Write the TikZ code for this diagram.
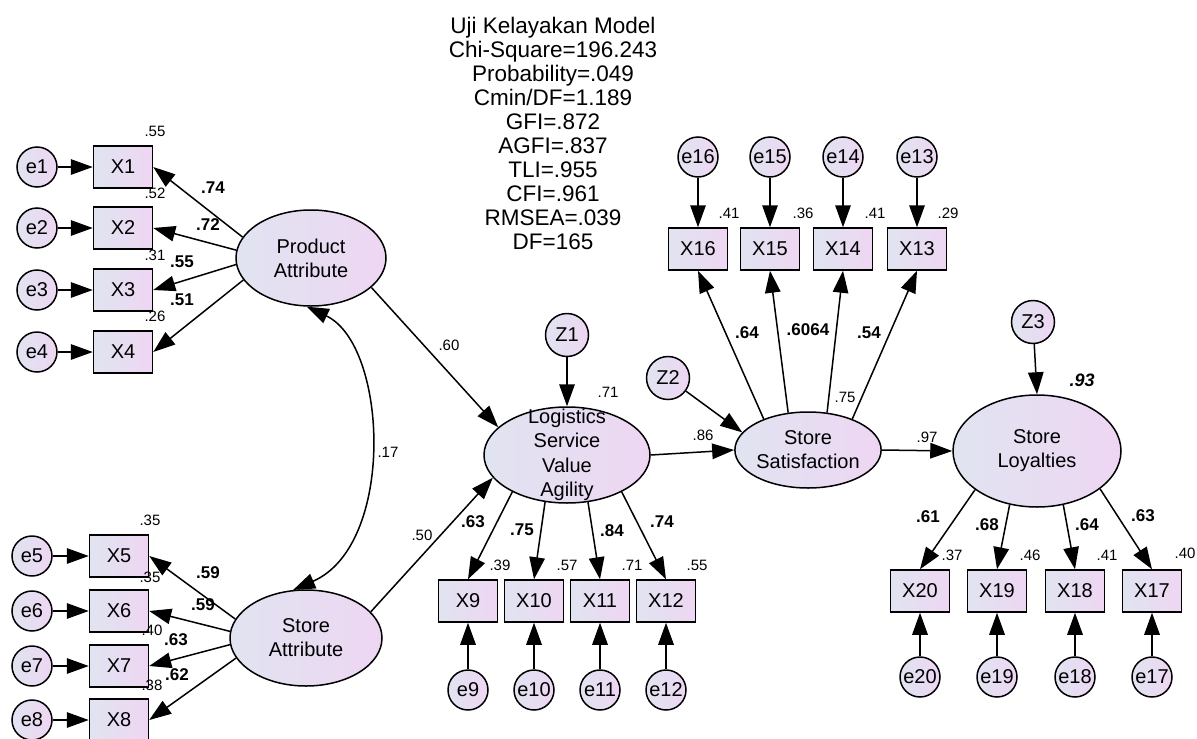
\documentclass[tikz,border=0pt]{standalone}
\usepackage{fontspec}
\setmainfont{Liberation Sans}
\usetikzlibrary{arrows.meta,shapes.geometric}
\definecolor{boxleft}{RGB}{224,228,240}
\definecolor{boxright}{RGB}{238,214,243}

\begin{document}
\begin{tikzpicture}[x=1pt,y=-1pt]
    \tikzstyle{every node}+=[inner sep=0pt]
    \tikzstyle{shade}=[draw=black,line width=1.5pt,left color=boxleft,right color=boxright]
    \tikzstyle{obs}=[shade,rectangle,minimum width=59pt,minimum height=42pt,font=\fontsize{20}{24}\selectfont]
    \tikzstyle{err}=[shade,circle,minimum size=40pt,font=\fontsize{20}{24}\selectfont]
    \tikzstyle{dist}=[err,minimum size=43pt]
    \tikzstyle{lat}=[shade,ellipse,align=center,font=\fontsize{20}{24}\selectfont]
    \tikzstyle{arr}=[line width=1.5pt,-{Triangle[length=22pt,width=15.5pt]}]
    \tikzstyle{arrtwo}=[line width=1.5pt,{Triangle[length=22pt,width=15.5pt]}-{Triangle[length=22pt,width=15.5pt]}]
    \tikzstyle{sq}=[font=\fontsize{15}{18}\selectfont]
    \tikzstyle{ld}=[font=\bfseries\fontsize{17}{20}\selectfont]
    \useasboundingbox (0,0) rectangle (1197,739);
    % fit statistics
    \node[align=center,anchor=north,font=\fontsize{22.5}{24}\selectfont] (fit) at (553,16.5)
        {Uji Kelayakan Model\\Chi-Square=196.243\\Probability=.049\\Cmin/DF=1.189\\GFI=.872\\AGFI=.837\\TLI=.955\\CFI=.961\\RMSEA=.039\\DF=165};
    % latent variables
    \node[lat,minimum width=150pt,minimum height=96pt] (PA) at (311,258) {Product\\Attribute};
    \node[lat,minimum width=152pt,minimum height=96pt] (SA) at (306,638) {Store\\Attribute};
    \node[lat,minimum width=166pt,minimum height=96pt] (LSVA) at (567,455) {};
    \node[align=center,font=\fontsize{20}{24.5}\selectfont] (LSVAtext) at (LSVA) {Logistics\\Service\\Value\\Agility};
    \node[lat,minimum width=146pt,minimum height=76pt] (SS) at (808,450) {Store\\Satisfaction};
    \node[lat,minimum width=168pt,minimum height=112pt] (SL) at (1037,451) {Store\\Loyalties};
    \node[dist] (Z1) at (567,335) {Z1};
    \node[dist] (Z2) at (668,378) {Z2};
    \node[dist] (Z3) at (1033,322) {Z3};
    % product attribute indicators
    \node[obs] (X1) at (123,167) {X1};
    \node[obs] (X2) at (123,228) {X2};
    \node[obs] (X3) at (123,290) {X3};
    \node[obs] (X4) at (123,352) {X4};
    \node[err] (e1) at (37,167) {e1};
    \node[err] (e2) at (37,228) {e2};
    \node[err] (e3) at (37,290) {e3};
    \node[err] (e4) at (37,352) {e4};
    \draw[arr] (e1) -- (X1);
    \draw[arr] (e2) -- (X2);
    \draw[arr] (e3) -- (X3);
    \draw[arr] (e4) -- (X4);
    \draw[arr] (PA.163) -- (X1.east);
    \draw[arr] (PA.174) -- (X2.east);
    \draw[arr] (PA.185) -- (X3.east);
    \draw[arr] (PA.198) -- (X4.east);
    \node[sq] (sq1) at (155,131) {.55};
    \node[sq] (sq2) at (155,193) {.52};
    \node[sq] (sq3) at (155,255) {.31};
    \node[sq] (sq4) at (155,316) {.26};
    \node[ld] (ld1) at (213,188) {.74};
    \node[ld] (ld2) at (208,225) {.72};
    \node[ld] (ld3) at (182,262) {.55};
    \node[ld] (ld4) at (182,300) {.51};
    % store attribute indicators
    \node[obs] (X5) at (119,556) {X5};
    \node[obs] (X6) at (119,611) {X6};
    \node[obs] (X7) at (119,666) {X7};
    \node[obs] (X8) at (119,720) {X8};
    \node[err] (e5) at (32,556) {e5};
    \node[err] (e6) at (32,611) {e6};
    \node[err] (e7) at (32,666) {e7};
    \node[err] (e8) at (32,720) {e8};
    \draw[arr] (e5) -- (X5);
    \draw[arr] (e6) -- (X6);
    \draw[arr] (e7) -- (X7);
    \draw[arr] (e8) -- (X8);
    \draw[arr] (SA.165) -- (X5.east);
    \draw[arr] (SA.175) -- (X6.east);
    \draw[arr] (SA.185) -- (X7.east);
    \draw[arr] (SA.196) -- (X8.east);
    \node[sq] (sq5) at (150,520) {.35};
    \node[sq] (sq6) at (150,577) {.35};
    \node[sq] (sq7) at (152,630) {.40};
    \node[sq] (sq8) at (152,685) {.38};
    \node[ld] (ld5) at (208,573) {.59};
    \node[ld] (ld6) at (203,605) {.59};
    \node[ld] (ld7) at (176,640) {.63};
    \node[ld] (ld8) at (177,675) {.62};
    % logistics service value agility indicators
    \node[obs] (X9) at (468,601) {X9};
    \node[obs] (X10) at (534,601) {X10};
    \node[obs] (X11) at (600,601) {X11};
    \node[obs] (X12) at (666,601) {X12};
    \node[err] (e9) at (468,690) {e9};
    \node[err] (e10) at (534,690) {e10};
    \node[err] (e11) at (600,690) {e11};
    \node[err] (e12) at (666,690) {e12};
    \draw[arr] (e9) -- (X9);
    \draw[arr] (e10) -- (X10);
    \draw[arr] (e11) -- (X11);
    \draw[arr] (e12) -- (X12);
    \draw[arr] (LSVA.214) -- (X9.north);
    \draw[arr] (LSVA.245) -- (X10.north);
    \draw[arr] (LSVA.294) -- (X11.north);
    \draw[arr] (LSVA.326) -- (X12.north);
    \node[sq] (sq9) at (500,565) {.39};
    \node[sq] (sq10) at (567,565) {.57};
    \node[sq] (sq11) at (632,565) {.71};
    \node[sq] (sq12) at (697,565) {.55};
    \node[ld] (ld9) at (473,522) {.63};
    \node[ld] (ld10) at (522,530) {.75};
    \node[ld] (ld11) at (612,531) {.84};
    \node[ld] (ld12) at (662,522) {.74};
    % store satisfaction indicators
    \node[obs] (X16) at (698,249) {X16};
    \node[obs] (X15) at (770,249) {X15};
    \node[obs] (X14) at (843,249) {X14};
    \node[obs] (X13) at (917,249) {X13};
    \node[err] (e16) at (698,157) {e16};
    \node[err] (e15) at (770,157) {e15};
    \node[err] (e14) at (843,157) {e14};
    \node[err] (e13) at (917,157) {e13};
    \draw[arr] (e16) -- (X16);
    \draw[arr] (e15) -- (X15);
    \draw[arr] (e14) -- (X14);
    \draw[arr] (e13) -- (X13);
    \draw[arr] (SS.145) -- (X16.south);
    \draw[arr] (SS.118) -- (X15.south);
    \draw[arr] (SS.63) -- (X14.south);
    \draw[arr] (SS.35) -- (X13.south);
    \node[sq] (sq16) at (729,213) {.41};
    \node[sq] (sq15) at (803,213) {.36};
    \node[sq] (sq14) at (875,213) {.41};
    \node[sq] (sq13) at (948,213) {.29};
    \node[ld] (ld16) at (747,333) {.64};
    \node[ld] (ld15) at (808,330) {.6064};
    \node[ld] (ld13) at (869,333) {.54};
    % store loyalties indicators
    \node[obs] (X20) at (920,591) {X20};
    \node[obs] (X19) at (997,591) {X19};
    \node[obs] (X18) at (1075,591) {X18};
    \node[obs] (X17) at (1152,591) {X17};
    \node[err] (e20) at (920,677) {e20};
    \node[err] (e19) at (997,677) {e19};
    \node[err] (e18) at (1075,677) {e18};
    \node[err] (e17) at (1152,677) {e17};
    \draw[arr] (e20) -- (X20);
    \draw[arr] (e19) -- (X19);
    \draw[arr] (e18) -- (X18);
    \draw[arr] (e17) -- (X17);
    \draw[arr] (SL.212) -- (X20.north);
    \draw[arr] (SL.243) -- (X19.north);
    \draw[arr] (SL.296) -- (X18.north);
    \draw[arr] (SL.329) -- (X17.north);
    \node[sq] (sq20) at (952,555) {.37};
    \node[sq] (sq19) at (1030,555) {.46};
    \node[sq] (sq18) at (1107,555) {.41};
    \node[sq] (sq17) at (1185,553) {.40};
    \node[ld] (ld20) at (928,517) {.61};
    \node[ld] (ld19) at (987,525) {.68};
    \node[ld] (ld18) at (1087,525) {.64};
    \node[ld] (ld17) at (1143,516) {.63};
    % structural paths
    \draw[arrtwo] (PA.265) .. controls (388,345) and (396,545) .. (SA.105);
    \draw[arr] (PA.334) -- (LSVA.158);
    \draw[arr] (SA.22) -- (LSVA.197);
    \draw[arr] (Z1) -- (LSVA.north);
    \draw[arr] (LSVA.east) -- (SS.west);
    \draw[arr] (Z2) -- (SS.165);
    \draw[arr] (SS.east) -- (SL.west);
    \draw[arr] (Z3) -- (SL.north);
    \node[sq] (cov) at (388,452) {.17};
    \node[sq] (b1) at (449,345) {.60};
    \node[sq] (b2) at (422,535) {.50};
    \node[sq] (r1) at (608,392) {.71};
    \node[sq] (b3) at (703,435) {.86};
    \node[sq] (r2) at (845,397) {.75};
    \node[sq] (b4) at (927,437) {.97};
    \node[font=\bfseries\itshape\fontsize{18}{20}\selectfont] (r3) at (1082,380) {.93};
\end{tikzpicture}
\end{document}
